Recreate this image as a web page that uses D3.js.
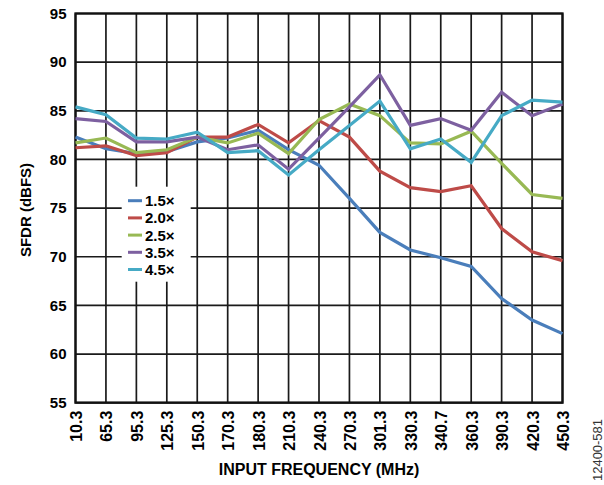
<!DOCTYPE html>
<html>
<head>
<meta charset="utf-8">
<script src="https://cdn.jsdelivr.net/npm/d3@7"></script>
<style>
  html, body { margin: 0; padding: 0; background: #fff; }
  svg { display: block; }
  text { font-family: "Liberation Sans", Arial, sans-serif; }
</style>
</head>
<body>
<svg id="chart" width="604" height="485"></svg>
<script>
const categories = ["10.3","65.3","95.3","125.3","150.3","170.3","180.3","210.3","240.3","270.3","301.3","330.3","340.7","360.3","390.3","420.3","450.3"];
const seriesNames = ["1.5×","2.0×","2.5×","3.5×","4.5×"];
const seriesColors = ["#4a7ebb","#be4b48","#98b954","#7d60a0","#46aac5"];
const s15 = [82.3, 81.1, 80.6, 80.8, 81.8, 82.2, 83.0, 81.0, 79.4, 76.0, 72.5, 70.7, 69.9, 69.0, 65.7, 63.5, 62.1];
const s20 = [81.2, 81.4, 80.4, 80.7, 82.3, 82.3, 83.6, 81.7, 84.0, 82.3, 78.8, 77.1, 76.7, 77.3, 72.9, 70.5, 69.6];
const s25 = [81.7, 82.2, 80.7, 81.0, 82.3, 81.7, 82.7, 80.6, 84.1, 85.7, 84.5, 81.7, 81.6, 82.9, 79.6, 76.4, 76.0];
const s35 = [84.2, 83.9, 81.8, 81.8, 82.3, 81.0, 81.5, 79.0, 82.2, 85.4, 88.7, 83.5, 84.2, 83.0, 86.9, 84.5, 85.7];
const s45 = [85.4, 84.6, 82.2, 82.1, 82.8, 80.7, 80.9, 78.4, 81.0, 83.5, 86.0, 81.1, 82.1, 79.7, 84.5, 86.1, 85.9];
const yTicks = [55, 60, 65, 70, 75, 80, 85, 90, 95];
const xTitle = "INPUT FREQUENCY (MHz)";
const yTitle = "SFDR (dBFS)";
const figureId = "12400-581";

const series = [s15, s20, s25, s35, s45];

const svg = d3.select("#chart");
const L = 75.5, T = 13.5, R = 562.5, B = 402.7;

const x = d3.scalePoint().domain(categories).range([L, R]);
const y = d3.scaleLinear().domain([55, 95]).range([B, T]);

// grid
const grid = svg.append("g");
grid.selectAll("line.v").data(categories).enter().append("line")
  .attr("x1", d => x(d)).attr("x2", d => x(d))
  .attr("y1", T).attr("y2", B)
  .attr("stroke", "#1a1a1a").attr("stroke-width", 1.7);
grid.selectAll("line.h").data(yTicks).enter().append("line")
  .attr("x1", L).attr("x2", R)
  .attr("y1", d => y(d)).attr("y2", d => y(d))
  .attr("stroke", "#1a1a1a").attr("stroke-width", 1.7);

// frame
svg.append("rect").attr("x", L).attr("y", T).attr("width", R - L).attr("height", B - T)
  .attr("fill", "none").attr("stroke", "#111").attr("stroke-width", 2.3);

// y axis labels
const yAxis = d3.axisLeft(y).tickValues(yTicks).tickSize(0).tickPadding(9);
const gy = svg.append("g").attr("transform", `translate(${L},0)`).call(yAxis);
gy.select(".domain").remove();
gy.selectAll("text").attr("font-size", 15).attr("font-weight", "bold")
  .attr("fill", "#000").style("font-family", "'Liberation Sans', Arial, sans-serif");

// x axis labels
const xAxis = d3.axisBottom(x).tickSize(0).tickPadding(0);
const gx = svg.append("g").attr("transform", `translate(0,${B})`).call(xAxis);
gx.select(".domain").remove();
gx.selectAll("text")
  .attr("font-size", 16).attr("font-weight", "bold").attr("fill", "#000")
  .style("font-family", "'Liberation Sans', Arial, sans-serif")
  .attr("text-anchor", "end")
  .attr("dy", null).attr("y", 0)
  .attr("transform", "translate(6,8) rotate(-90)");

// lines
const line = d3.line().x((d, i) => x(categories[i])).y(d => y(d));
series.forEach((s, k) => {
  svg.append("path").datum(s)
    .attr("fill", "none").attr("stroke", seriesColors[k])
    .attr("stroke-width", 3.2).attr("stroke-linejoin", "miter")
    .attr("d", line);
});

// legend
const lg = svg.append("g");
lg.append("rect").attr("x", 121.7).attr("y", 186.7).attr("width", 69).attr("height", 95).attr("fill", "#fff");
seriesNames.forEach((n, k) => {
  const cy = 200.7 + k * 17.2;
  lg.append("line").attr("x1", 128).attr("x2", 142).attr("y1", cy).attr("y2", cy)
    .attr("stroke", seriesColors[k]).attr("stroke-width", 3);
  lg.append("text").attr("x", 145).attr("y", cy).attr("dy", "0.36em")
    .attr("font-size", 15).attr("font-weight", "bold").text(n);
});

// titles
svg.append("text").attr("x", (L + R) / 2).attr("y", 475).attr("text-anchor", "middle")
  .attr("font-size", 16).attr("font-weight", "bold").text(xTitle);
svg.append("text").attr("transform", `translate(31,210) rotate(-90)`).attr("text-anchor", "middle")
  .attr("font-size", 15).attr("font-weight", "bold").text(yTitle);
svg.append("text").attr("transform", `translate(601.5,450) rotate(-90)`).attr("text-anchor", "middle")
  .attr("font-size", 12.5).attr("textLength", 62).attr("lengthAdjust", "spacingAndGlyphs")
  .attr("fill", "#333").text(figureId);
</script>
</body>
</html>
